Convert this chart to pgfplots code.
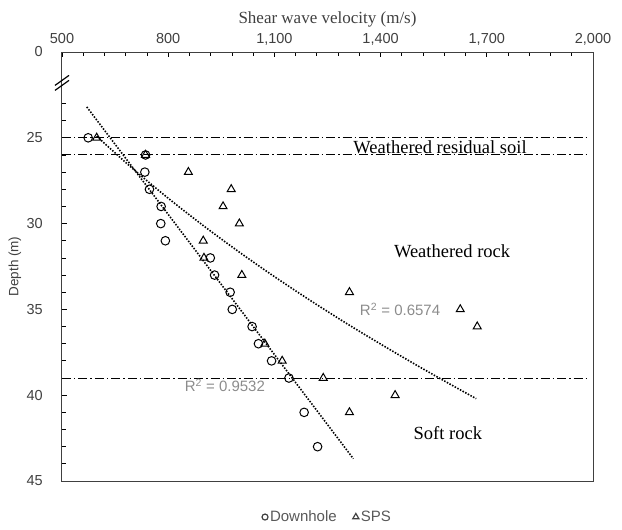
\documentclass[border=0pt]{standalone}
\usepackage{fontspec}
\setmainfont{Liberation Serif}
\setsansfont{Liberation Sans}
\usepackage{pgfplots}
\pgfplotsset{compat=1.18}
\definecolor{axgray}{HTML}{404040}
\definecolor{rgray}{HTML}{8C8C8C}
\definecolor{leggray}{HTML}{595959}
\begin{document}
\begin{tikzpicture}[x=1pt,y=1pt]
\path[use as bounding box] (0,0) rectangle (622,530);
\begin{axis}[
  at={(62pt,49pt)}, anchor=south west,
  scale only axis, width=531pt, height=429pt,
  xmin=500, xmax=2000, ymin=20, ymax=45, y dir=reverse,
  xtick={500,800,1100,1400,1700,2000},
  minor x tick num=4,
  ytick={20,25,30,35,40,45},
  yticklabels={0,25,30,35,40,45},
  minor ytick={23,24,26,27,28,29,31,32,33,34,36,37,38,39,41,42,43,44},
  xtick pos=upper, ytick pos=left,
  xticklabel pos=upper,
  tick align=inside,
  major tick length=5pt, minor tick length=4pt,
  every tick/.style={black, line width=0.8pt},
  axis line style={line width=1pt, color=axgray},
  /pgf/number format/assume math mode=true,
  /pgf/number format/1000 sep={,},
  tick label style={font=\fontsize{14.5}{14.5}\selectfont\sffamily, text=axgray},
  xticklabel style={anchor=base, inner sep=0pt, yshift=9pt},
  yticklabel style={anchor=east, inner sep=0pt, xshift=-19pt},
  xlabel={Shear wave velocity (m/s)},
  xlabel style={at={(axis description cs:0.5,1)}, anchor=base, yshift=29pt, inner sep=0pt, font=\fontsize{17}{17}\selectfont\rmfamily, text=axgray},
  ylabel={Depth (m)},
  ylabel style={at={(axis description cs:-0.0885,0.5)}, anchor=center, font=\fontsize{13.5}{13.5}\selectfont\sffamily, text=axgray},
  legend style={at={(axis description cs:0.5,-0.084)}, anchor=center, draw=none, fill=none,
    font=\fontsize{15}{15}\selectfont\sffamily, text=leggray,
    /tikz/every even column/.append style={column sep=14pt}},
  legend columns=2,
  legend cell align=left,
  clip=false,
]
\addlegendimage{only marks, mark=o, mark size=3pt, mark options={draw=black!75, line width=1.2pt}}
\addlegendentry{Downhole}
\addlegendimage{only marks, mark=triangle, mark size=3.6pt, mark options={draw=black!75, line width=1.2pt}}
\addlegendentry{SPS}

% boundary lines
\addplot[forget plot, black, line width=1pt, dash pattern=on 9pt off 3pt on 1.5pt off 3pt] coordinates {(500,25) (1990,25)};
\addplot[forget plot, black, line width=1pt, dash pattern=on 9pt off 3pt on 1.5pt off 3pt] coordinates {(500,26) (1990,26)};
\addplot[forget plot, black, line width=1pt, dash pattern=on 9pt off 3pt on 1.5pt off 3pt] coordinates {(500,39) (1990,39)};

% trend lines
\addplot[forget plot, black, line width=1.6pt, dash pattern=on 1.5pt off 1.5pt] coordinates {(570,23.2) (1323,43.7)};
\addplot[forget plot, black, line width=1.6pt, dash pattern=on 1.5pt off 1.5pt, smooth] coordinates {
 (598,24.91) (700,26.80) (800,28.52) (900,30.13) (1000,31.65) (1100,33.09)
 (1200,34.46) (1300,35.77) (1400,37.02) (1500,38.23) (1600,39.40) (1670,40.2)};

% Downhole
\addplot[forget plot, only marks, mark=o, mark size=4.3pt, mark options={draw=black, line width=1pt}] coordinates {
 (574,25) (736,26) (734,27) (747,28) (780,29) (779,30) (792,31) (919,32) (931,33)
 (975,34) (981,35) (1037,36) (1055,37) (1092,38) (1141,39) (1184,41) (1222,43)};
% SPS
\addplot[forget plot, only marks, mark=triangle, mark size=4.6pt, mark options={draw=black, line width=1pt}] coordinates {
 (598,25) (736,26) (857,27) (978,28) (955,29) (1001,30) (899,31) (901,32) (1008,33)
 (1312,34) (1625,35) (1673,36) (1073,37) (1122,38) (1238,39) (1441,40) (1312,41)};

% labels
\node[anchor=base, font=\fontsize{18.5}{18.5}\selectfont\rmfamily, inner sep=0pt] at (axis cs:1568,25.91) {Weathered residual soil};
\node[anchor=base, font=\fontsize{18.5}{18.5}\selectfont\rmfamily, inner sep=0pt] at (axis cs:1602,32.0) {Weathered rock};
\node[anchor=base, font=\fontsize{18.5}{18.5}\selectfont\rmfamily, inner sep=0pt] at (axis cs:1590,42.58) {Soft rock};
\node[anchor=base, font=\fontsize{15}{15}\selectfont\sffamily, text=rgray, inner sep=0pt] at (axis cs:1455,35.36) {R\textsuperscript{2} = 0.6574};
\node[anchor=base, font=\fontsize{15}{15}\selectfont\sffamily, text=rgray, inner sep=0pt] at (axis cs:960,39.77) {R\textsuperscript{2} = 0.9532};

% axis break marks
\draw[black, line width=1.2pt] ([shift={(-7pt,-7.5pt)}]axis cs:500,21.8) -- ([shift={(7pt,2.5pt)}]axis cs:500,21.8);
\draw[black, line width=1.2pt] ([shift={(-7pt,-2.5pt)}]axis cs:500,21.8) -- ([shift={(7pt,7.5pt)}]axis cs:500,21.8);
\end{axis}
\end{tikzpicture}
\end{document}
